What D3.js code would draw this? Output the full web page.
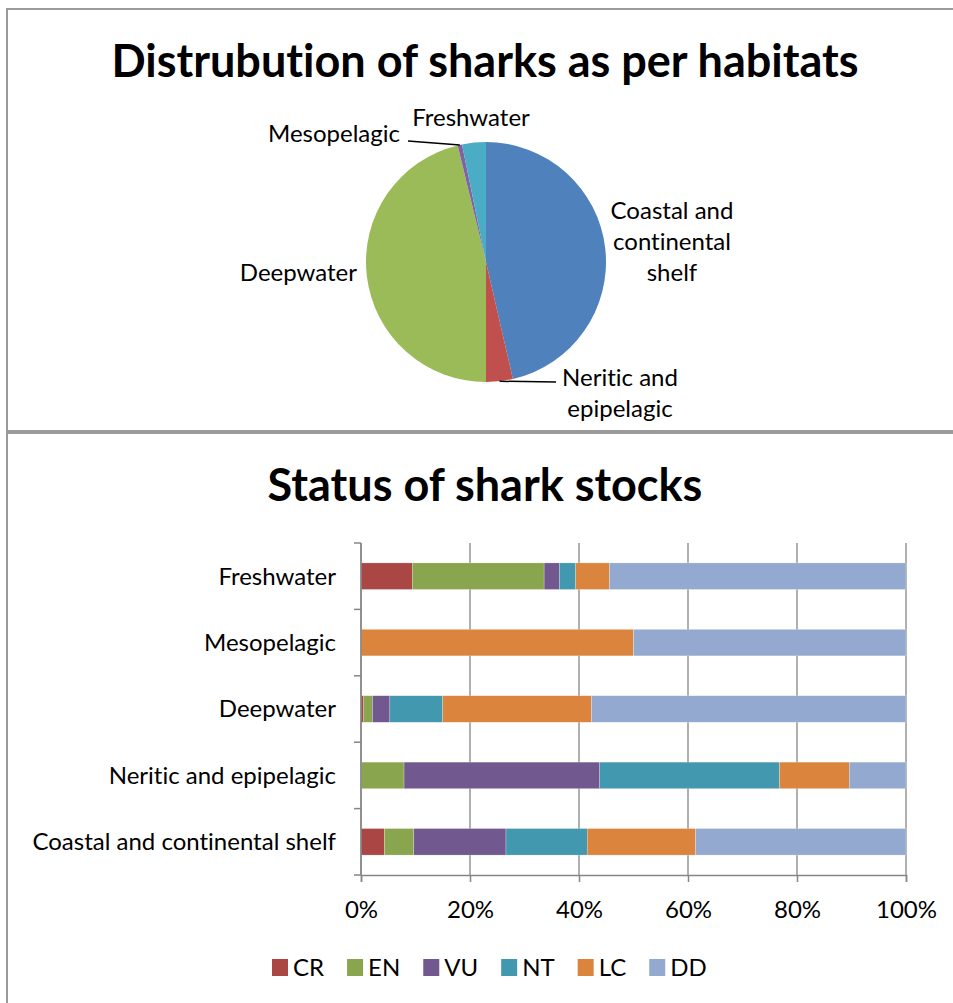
<!DOCTYPE html>
<html><head><meta charset="utf-8">
<script src="https://cdn.jsdelivr.net/npm/d3@7"></script>
<style>body{margin:0;background:#fff}svg{display:block}text{font-family:Lato,"Open Sans",sans-serif;fill:#000;font-variant-ligatures:none;font-feature-settings:"liga" 0,"clig" 0}</style>
</head><body><svg id="c" width="953" height="1003"></svg>
<script>
// Pie data (share of shark species per habitat, %)
const habitats = ["Coastal and continental shelf","Neritic and epipelagic","Deepwater","Mesopelagic","Freshwater"];
const habitatShare = [46.4, 3.6, 46.2, 0.6, 3.2];
const pieColors = ["#4F81BD","#C0504D","#9BBB59","#8064A2","#4BACC6"];

// Stacked bar data (%)
const stockCats = ["Freshwater","Mesopelagic","Deepwater","Neritic and epipelagic","Coastal and continental shelf"];
const statusKeys = ["CR","EN","VU","NT","LC","DD"];
const CR = [9.4, 0, 0.5, 0, 4.3];
const EN = [24.2, 0, 1.6, 7.9, 5.4];
const VU = [2.8, 0, 3.2, 35.9, 16.9];
const NT = [3.0, 0, 9.7, 33.0, 14.9];
const LC = [6.2, 50, 27.3, 12.8, 19.9];
const DD = [54.4, 50, 57.7, 10.4, 38.6];
const statusColors = ["#AA4643","#89A54E","#71588F","#4198AF","#DB843D","#93A9CF"];
const xTicks = [0,20,40,60,80,100];

const svg = d3.select("#c");

// frames
svg.append("rect").attr("x",7).attr("y",9).attr("width",960).attr("height",422)
  .attr("fill","#fff").attr("stroke","#9a9a9a").attr("stroke-width",2);
svg.append("rect").attr("x",7).attr("y",433).attr("width",960).attr("height",580)
  .attr("fill","#fff").attr("stroke","#9a9a9a").attr("stroke-width",2);

// ---- Pie ----
svg.append("text").attr("x",485).attr("y",77).attr("text-anchor","middle")
  .attr("font-weight","bold").attr("font-size",45).text("Distrubution of sharks as per habitats");

const cx = 486, cy = 262, R = 120;
const pie = d3.pie().sort(null).value(d=>d)(habitatShare);
const arc = d3.arc().innerRadius(0).outerRadius(R);
const pg = svg.append("g").attr("transform",`translate(${cx},${cy})`);
pg.selectAll("path").data(pie).join("path").attr("d",arc).attr("fill",(d,i)=>pieColors[i]);

const lf = 24;
function labelLines(g, lines, x, y, anchor){
  const t = g.append("text").attr("font-size",lf).attr("text-anchor",anchor);
  lines.forEach((l,i)=>t.append("tspan").attr("x",x).attr("y",y+i*31).text(l));
}
function edge(d, r){ const a=(d.startAngle+d.endAngle)/2; return [r*Math.sin(a), -r*Math.cos(a)]; }
labelLines(pg, ["Coastal and","continental","shelf"], 186, -43, "middle");
labelLines(pg, ["Neritic and","epipelagic"], 134, 124, "middle");
labelLines(pg, ["Deepwater"], -129, 19, "end");
labelLines(pg, ["Freshwater"], -15, -136, "middle");
labelLines(pg, ["Mesopelagic"], -86, -120, "end");
const pN = edge(pie[1], R);
pg.append("path").attr("d",`M${pN[0]},${pN[1]}L70,120`).attr("stroke","#000").attr("stroke-width",1.5).attr("fill","none");
const pM = edge(pie[3], R);
pg.append("path").attr("d",`M${pM[0]},${pM[1]}L-78,-121`).attr("stroke","#000").attr("stroke-width",1.5).attr("fill","none");

// ---- Stacked bars ----
svg.append("text").attr("x",485).attr("y",501).attr("text-anchor","middle")
  .attr("font-weight","bold").attr("font-size",45).text("Status of shark stocks");

const x = d3.scaleLinear().domain([0,100]).range([361,906]);
const y = d3.scaleBand().domain(stockCats).range([543,875]).paddingInner(0.6).paddingOuter(0.3);

svg.append("g").selectAll("line").data(xTicks).join("line")
  .attr("x1",d=>x(d)).attr("x2",d=>x(d)).attr("y1",543).attr("y2",875)
  .attr("stroke","#868686").attr("stroke-width",1.3);

const series = [CR,EN,VU,NT,LC,DD];
const rows = stockCats.map((c,i)=>{ const o={cat:c}; statusKeys.forEach((k,j)=>o[k]=series[j][i]); return o; });
const stacked = d3.stack().keys(statusKeys)(rows);
svg.append("g").selectAll("g").data(stacked).join("g").attr("fill",(d,i)=>statusColors[i])
  .selectAll("rect").data(d=>d).join("rect")
  .attr("x",d=>x(d[0])).attr("width",d=>x(d[1])-x(d[0]))
  .attr("y",d=>y(d.data.cat)).attr("height",y.bandwidth())
  .attr("stroke","#fff").attr("stroke-width",0.4).attr("stroke-opacity",0.6);

const xa = svg.append("g").attr("transform","translate(0,875)")
  .call(d3.axisBottom(x).tickValues(xTicks).tickFormat(d=>d+"%").tickSize(7).tickPadding(19));
xa.select(".domain").attr("stroke","#868686").attr("stroke-width",1.5);
xa.selectAll(".tick line").attr("stroke","#868686").attr("stroke-width",1.5);
xa.selectAll(".tick text").attr("font-size",lf).attr("font-family","Lato").attr("fill","#000");

const ya = svg.append("g").attr("transform","translate(361,0)");
ya.append("line").attr("y1",543).attr("y2",875).attr("stroke","#868686").attr("stroke-width",1.5);
const bounds = d3.range(stockCats.length+1).map(i=>543 + i*y.step());
ya.selectAll("line.t").data(bounds).join("line").attr("class","t")
  .attr("x1",-7).attr("x2",0).attr("y1",d=>d).attr("y2",d=>d).attr("stroke","#868686").attr("stroke-width",1.5);
ya.selectAll("text").data(stockCats).join("text")
  .attr("x",-25).attr("y",d=>y(d)+y.bandwidth()/2).attr("dy","0.35em")
  .attr("text-anchor","end").attr("font-size",lf).text(d=>d);

const lg = svg.append("g");
let lx = 272;
statusKeys.forEach((k,i)=>{
  lg.append("rect").attr("x",lx).attr("y",959).attr("width",16).attr("height",17).attr("fill",statusColors[i]);
  const t = lg.append("text").attr("x",lx+21).attr("y",968).attr("dy","0.35em").attr("font-size",lf).text(k);
  lx += 21 + t.node().getComputedTextLength() + 23;
});
</script></body></html>
